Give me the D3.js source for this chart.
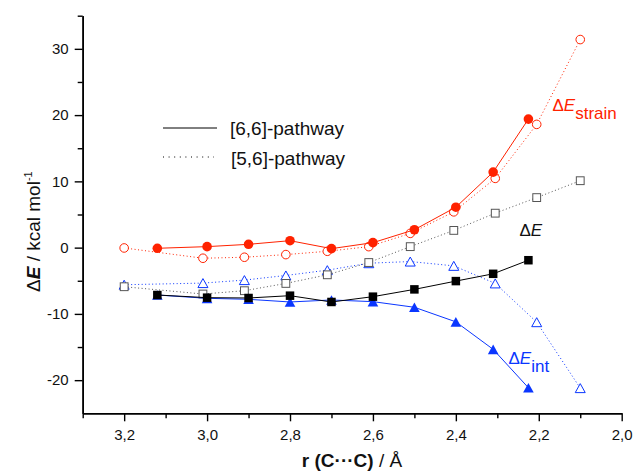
<!DOCTYPE html>
<html>
<head>
<meta charset="utf-8">
<script src="https://cdn.jsdelivr.net/npm/d3@7"></script>
<style>
  html, body { margin: 0; padding: 0; background: #fff; }
  svg { display: block; font-family: "Liberation Sans", Arial, sans-serif; }
</style>
</head>
<body>
<svg id="chart" width="635" height="472"></svg>
<script>
// ---- data ----
const r66 = [3.12, 3.0, 2.9, 2.8, 2.7, 2.6, 2.5, 2.4, 2.31, 2.225];
const r56 = [3.2, 3.01, 2.91, 2.81, 2.71, 2.61, 2.51, 2.405, 2.305, 2.205, 2.1];

const strain66 = [-0.1, 0.15, 0.5, 1.05, -0.15, 0.75, 2.7, 6.1, 11.4, 19.4];
const strain56 = [-0.05, -1.6, -1.45, -1.05, -0.55, 0.15, 2.15, 5.4, 10.45, 18.6, 31.4];
const dE66 = [-7.15, -7.55, -7.6, -7.25, -8.2, -7.4, -6.3, -5.05, -3.95, -1.9];
const dE56 = [-5.9, -7.0, -6.5, -5.4, -4.1, -2.25, 0.15, 2.6, 5.2, 7.55, 10.1];
const int66 = [-7.15, -7.65, -7.8, -8.2, -7.9, -8.15, -9.0, -11.2, -15.35, -21.15];
const int56 = [-5.6, -5.35, -4.9, -4.2, -3.4, -2.35, -2.1, -2.75, -5.4, -11.25, -21.2];

const xMajor = [3.2, 3.0, 2.8, 2.6, 2.4, 2.2, 2.0];
const xMinor = [3.3, 3.1, 2.9, 2.7, 2.5, 2.3, 2.1];
const yMajor = [-20, -10, 0, 10, 20, 30];
const yMinor = [-15, -5, 5, 15, 25, 35];

const legendLabels = ["[6,6]-pathway", "[5,6]-pathway"];

const RED = "#ff2200", BLUE = "#0a36ff", BLACK = "#000000";

// ---- scales ----
const svg = d3.select("#chart");
const x = d3.scaleLinear().domain([3.3, 2.0]).range([82.7, 621.7]);
const y = d3.scaleLinear().domain([-25, 35]).range([413.3, 15.7]);
const fmtX = v => v.toFixed(1).replace(".", ",");
const fmtY = v => String(v);

// ---- axes ----
const gx = svg.append("g").attr("transform", `translate(0,${y(-25)})`);
gx.call(d3.axisBottom(x).tickValues(xMinor).tickSize(5).tickFormat("").tickSizeOuter(0));
const gx2 = svg.append("g").attr("transform", `translate(0,${y(-25)})`);
gx2.call(d3.axisBottom(x).tickValues(xMajor).tickSize(8).tickPadding(8).tickFormat(fmtX).tickSizeOuter(0));
const gy = svg.append("g").attr("transform", `translate(${x(3.3)},0)`);
gy.call(d3.axisLeft(y).tickValues(yMinor).tickSize(5).tickFormat("").tickSizeOuter(0));
const gy2 = svg.append("g").attr("transform", `translate(${x(3.3)},0)`);
gy2.call(d3.axisLeft(y).tickValues(yMajor).tickSize(8).tickPadding(6).tickFormat(fmtY).tickSizeOuter(0));

svg.selectAll(".domain").attr("stroke", "#000").attr("stroke-width", 1.6);
svg.selectAll(".tick line").attr("stroke", "#000").attr("stroke-width", 1.4);
svg.selectAll(".tick text").attr("font-size", 15).attr("fill", "#111")
  .attr("font-family", "Liberation Sans, Arial, sans-serif");

// axis titles
const xt = svg.append("text")
  .attr("x", 352).attr("y", 467)
  .attr("text-anchor", "middle")
  .attr("font-size", 19).attr("fill", "#111");
xt.append("tspan").attr("font-weight", "bold").text("r (C\u00B7\u00B7\u00B7C)");
xt.append("tspan").text(" / \u00C5");

const yt = svg.append("text")
  .attr("transform", "translate(40,292) rotate(-90)")
  .attr("font-size", 19).attr("fill", "#111");
yt.append("tspan").text("\u0394");
yt.append("tspan").attr("font-weight", "bold").attr("font-style", "italic").text("E");
yt.append("tspan").text(" / kcal mol");
yt.append("tspan").attr("font-size", 11).attr("dy", -8).text("-1");

// ---- series ----
const plot = svg.append("g");
function series(rs, vs, color, dashed, marker, filled) {
  const pts = rs.map((r, i) => [x(r), y(vs[i])]);
  plot.append("path")
    .attr("d", d3.line()(pts))
    .attr("fill", "none")
    .attr("stroke", color)
    .attr("stroke-width", 1)
    .attr("stroke-dasharray", dashed ? "1,2.5" : null);
  const g = plot.append("g");
  pts.forEach(p => {
    let el;
    if (marker === "circle") {
      el = g.append("circle").attr("cx", p[0]).attr("cy", p[1]).attr("r", filled ? 4.8 : 4.3);
    } else if (marker === "square") {
      const s = filled ? 8.5 : 7.8;
      el = g.append("rect").attr("x", p[0] - s / 2).attr("y", p[1] - s / 2).attr("width", s).attr("height", s);
    } else {
      const w = filled ? 5.3 : 5, h = filled ? 4.8 : 4.5;
      el = g.append("path").attr("d", `M${p[0]},${p[1] - h}L${p[0] + w},${p[1] + h}L${p[0] - w},${p[1] + h}Z`);
    }
    if (filled) el.attr("fill", color).attr("stroke", "none");
    else el.attr("fill", "#fff").attr("stroke", color).attr("stroke-width", 1);
  });
}

series(r56, int56, BLUE, true, "triangle", false);
series(r56, dE56, "#555", true, "square", false);
series(r56, strain56, RED, true, "circle", false);
series(r66, int66, BLUE, false, "triangle", true);
series(r66, dE66, BLACK, false, "square", true);
series(r66, strain66, RED, false, "circle", true);

// ---- annotations ----
function annot(xp, yp, color, sub) {
  const t = svg.append("text").attr("x", xp).attr("y", yp).attr("font-size", 17).attr("fill", color);
  t.append("tspan").text("\u0394");
  t.append("tspan").attr("font-style", "italic").text("E");
  if (sub) t.append("tspan").attr("dy", 8).text(sub);
}
annot(552.5, 110.5, RED, "strain");
annot(519.5, 236, "#111", null);
annot(508.5, 364, BLUE, "int");

// ---- legend ----
const lg = svg.append("g");
lg.append("line").attr("x1", 163).attr("x2", 217).attr("y1", 128).attr("y2", 128)
  .attr("stroke", "#000").attr("stroke-width", 1);
lg.append("line").attr("x1", 163).attr("x2", 214).attr("y1", 157).attr("y2", 157)
  .attr("stroke", "#000").attr("stroke-width", 1).attr("stroke-dasharray", "1,4.6");
lg.append("text").attr("x", 230).attr("y", 135).attr("font-size", 19).attr("fill", "#111").text(legendLabels[0]);
lg.append("text").attr("x", 231).attr("y", 165).attr("font-size", 19).attr("fill", "#111").text(legendLabels[1]);
</script>
</body>
</html>
